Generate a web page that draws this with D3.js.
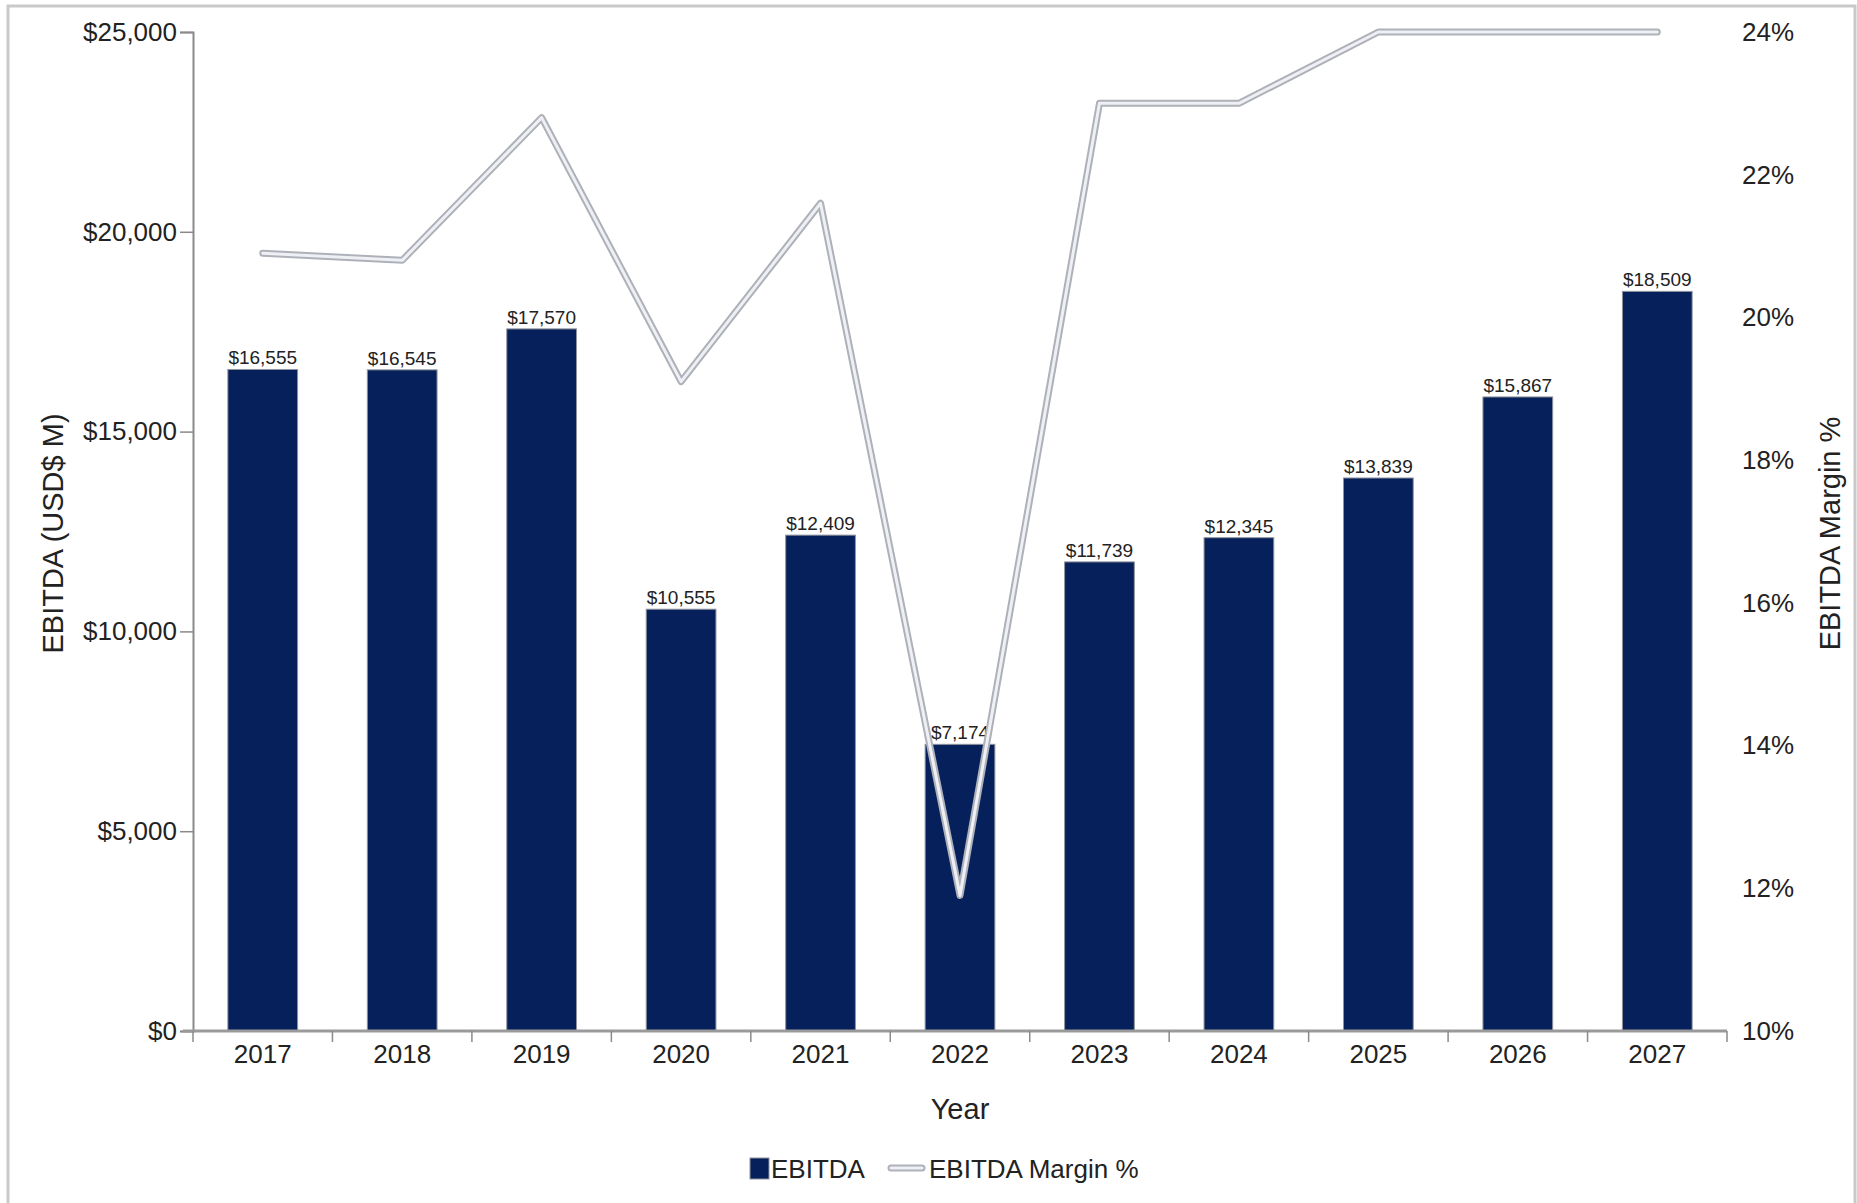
<!DOCTYPE html>
<html>
<head>
<meta charset="utf-8">
<script src="https://cdn.jsdelivr.net/npm/d3@7"></script>
<style>
  html, body { margin: 0; padding: 0; background: #fff; }
  svg { display: block; font-family: "Liberation Sans", Arial, sans-serif; }
</style>
</head>
<body>
<svg id="chart" width="1857" height="1203"></svg>
<script>
// EBITDA by year (USD$ M) with EBITDA margin on a secondary axis
const years = ["2017", "2018", "2019", "2020", "2021", "2022", "2023", "2024", "2025", "2026", "2027"];
const ebitda = [16555, 16545, 17570, 10555, 12409, 7174, 11739, 12345, 13839, 15867, 18509];
const marginPct = [20.9, 20.8, 22.8, 19.1, 21.6, 11.9, 23.0, 23.0, 24.0, 24.0, 24.0];
const leftTicks = [0, 5000, 10000, 15000, 20000, 25000];
const rightTicks = [10, 12, 14, 16, 18, 20, 22, 24];

const svg = d3.select("#chart");
const W = 1857, H = 1203;
const plot = { left: 193, right: 1727, top: 32, bottom: 1031 };

const navy = "#06205c";
const textColor = "#222";
const axisGray = "#8a8a8a";

// outer frame
svg.append("rect")
  .attr("x", 8).attr("y", 6)
  .attr("width", W - 10).attr("height", H + 20)
  .attr("fill", "none")
  .attr("stroke", "#c9c9c9")
  .attr("stroke-width", 3);

const x = d3.scaleBand().domain(years)
  .range([plot.left, plot.right])
  .paddingInner(0.5).paddingOuter(0.25);
const y = d3.scaleLinear().domain([0, 25000]).range([plot.bottom, plot.top]);
const y2 = d3.scaleLinear().domain([10, 24]).range([plot.bottom, plot.top]);

const money = d3.format("$,");

// bars
svg.append("g").selectAll("rect")
  .data(years)
  .join("rect")
  .attr("x", (d) => x(d))
  .attr("y", (d, i) => y(ebitda[i]))
  .attr("width", x.bandwidth())
  .attr("height", (d, i) => y(0) - y(ebitda[i]))
  .attr("fill", navy)
  .attr("stroke", "#8f939c")
  .attr("stroke-width", 1);

// value labels above bars
svg.append("g").selectAll("text")
  .data(years)
  .join("text")
  .attr("x", (d) => x(d) + x.bandwidth() / 2)
  .attr("y", (d, i) => y(ebitda[i]) - 5)
  .attr("text-anchor", "middle")
  .attr("font-size", 19)
  .attr("fill", textColor)
  .text((d, i) => money(ebitda[i]));

// left axis
const leftAxis = d3.axisLeft(y).tickValues(leftTicks).tickFormat(money).tickSize(13).tickPadding(3);
const gl = svg.append("g").attr("transform", `translate(${plot.left},0)`).call(leftAxis);
gl.select(".domain").attr("stroke", axisGray).attr("stroke-width", 2);
gl.selectAll(".tick line").attr("stroke", axisGray).attr("stroke-width", 1.5);
gl.selectAll(".tick text").attr("font-size", 26).attr("fill", textColor).attr("font-family", "Liberation Sans, Arial, sans-serif");

// right axis (labels only)
const rightAxis = d3.axisRight(y2).tickValues(rightTicks).tickFormat((d) => d + "%").tickSize(0).tickPadding(15);
const gr = svg.append("g").attr("transform", `translate(${plot.right},0)`).call(rightAxis);
gr.select(".domain").remove();
gr.selectAll(".tick text").attr("font-size", 26).attr("fill", textColor).attr("font-family", "Liberation Sans, Arial, sans-serif");

// bottom axis
const bottomAxis = d3.axisBottom(x).tickSize(0).tickPadding(14);
const gb = svg.append("g").attr("transform", `translate(0,${plot.bottom})`).call(bottomAxis);
gb.select(".domain").remove();
gb.selectAll(".tick text").attr("font-size", 26).attr("fill", textColor)
  .attr("dy", "0.71em").attr("font-family", "Liberation Sans, Arial, sans-serif");
svg.append("line")
  .attr("x1", plot.left - 10).attr("x2", plot.right)
  .attr("y1", plot.bottom).attr("y2", plot.bottom)
  .attr("stroke", "#9a9a9a").attr("stroke-width", 3);
// category boundary ticks
const bounds = years.map((d) => x(d) - x.step() * x.paddingInner() / 2);
bounds.push(plot.right);
svg.append("g").selectAll("line")
  .data(bounds)
  .join("line")
  .attr("x1", (d) => d).attr("x2", (d) => d)
  .attr("y1", plot.bottom).attr("y2", plot.bottom + 11)
  .attr("stroke", axisGray).attr("stroke-width", 1.5);

// margin line, drawn as a hollow gray stroke
const line = d3.line()
  .x((d, i) => x(years[i]) + x.bandwidth() / 2)
  .y((d) => y2(d));
svg.append("path").datum(marginPct)
  .attr("d", line).attr("fill", "none")
  .attr("stroke", "#aeb1b8").attr("stroke-width", 7)
  .attr("stroke-linejoin", "round").attr("stroke-linecap", "round");
svg.append("path").datum(marginPct)
  .attr("d", line).attr("fill", "none")
  .attr("stroke", "#eef0f5").attr("stroke-width", 3)
  .attr("stroke-linejoin", "round").attr("stroke-linecap", "round");

// axis titles
svg.append("text")
  .attr("transform", `translate(53,${(plot.top + plot.bottom) / 2 + 2}) rotate(-90)`)
  .attr("text-anchor", "middle").attr("dominant-baseline", "central")
  .attr("font-size", 29).attr("fill", textColor)
  .text("EBITDA (USD$ M)");
svg.append("text")
  .attr("transform", `translate(1830,${(plot.top + plot.bottom) / 2 + 2}) rotate(-90)`)
  .attr("text-anchor", "middle").attr("dominant-baseline", "central")
  .attr("font-size", 29).attr("fill", textColor)
  .text("EBITDA Margin %");
svg.append("text")
  .attr("x", (plot.left + plot.right) / 2).attr("y", 1109)
  .attr("text-anchor", "middle").attr("dominant-baseline", "central")
  .attr("font-size", 29).attr("fill", textColor)
  .text("Year");

// legend
const lg = svg.append("g");
lg.append("rect").attr("x", 750).attr("y", 1158).attr("width", 19).attr("height", 21)
  .attr("fill", navy).attr("stroke", "#8f939c").attr("stroke-width", 1);
lg.append("text").attr("x", 771).attr("y", 1169).attr("dominant-baseline", "central")
  .attr("font-size", 26).attr("fill", textColor).text("EBITDA");
lg.append("line").attr("x1", 891).attr("x2", 922).attr("y1", 1168).attr("y2", 1168)
  .attr("stroke", "#aeb1b8").attr("stroke-width", 7).attr("stroke-linecap", "round");
lg.append("line").attr("x1", 891).attr("x2", 922).attr("y1", 1168).attr("y2", 1168)
  .attr("stroke", "#eef0f5").attr("stroke-width", 3).attr("stroke-linecap", "round");
lg.append("text").attr("x", 929).attr("y", 1169).attr("dominant-baseline", "central")
  .attr("font-size", 26).attr("fill", textColor).text("EBITDA Margin %");
</script>
</body>
</html>
